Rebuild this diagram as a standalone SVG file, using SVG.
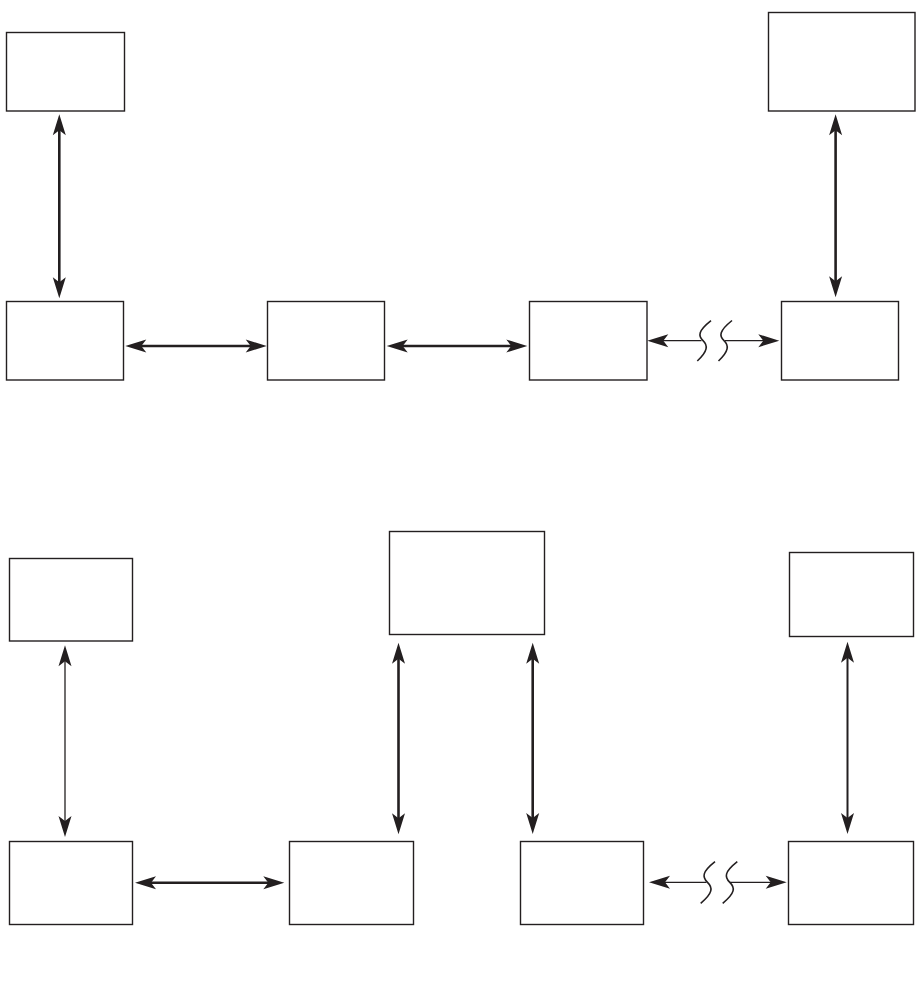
<svg xmlns="http://www.w3.org/2000/svg" width="916" height="1006" viewBox="0 0 916 1006">
<defs>
<style>
.box{fill:#fff;stroke:#231f20;stroke-width:1.4}
.thick{fill:none;stroke:#231f20;stroke-width:2.6;marker-start:url(#ah);marker-end:url(#ah)}
.med{fill:none;stroke:#231f20;stroke-width:2;marker-start:url(#ah);marker-end:url(#ah)}
.thin{fill:none;stroke:#231f20;stroke-width:1.3;marker-start:url(#ah);marker-end:url(#ah)}
.seg{fill:none;stroke:#231f20;stroke-width:1.3}
.wave{fill:none;stroke:#231f20;stroke-width:1.6}
</style>
<marker id="ah" markerUnits="userSpaceOnUse" orient="auto-start-reverse" markerWidth="22" markerHeight="14" refX="13" refY="6.5" overflow="visible">
<path d="M21,6.5 L0,0 L5,6.5 L0,13 Z" fill="#231f20"/>
</marker>
<marker id="ahs" markerUnits="userSpaceOnUse" orient="auto-start-reverse" markerWidth="22" markerHeight="14" refX="13" refY="6.5" overflow="visible">
<path d="M21,6.5 L0,0 L5,6.5 L0,13 Z" fill="#231f20"/>
</marker>
</defs>
<rect width="916" height="1006" fill="#fff"/>
<g id="top-nodes">
<g id="t1"><rect class="box" x="6.5" y="32.5" width="118" height="78.5"/></g>
<g id="t2"><rect class="box" x="768.5" y="12.5" width="146.5" height="98.5"/></g>
<g id="t3"><rect class="box" x="6.5" y="301.5" width="117" height="78.5"/></g>
<g id="t4"><rect class="box" x="267.5" y="301.5" width="117" height="78.5"/></g>
<g id="t5"><rect class="box" x="529.5" y="301.5" width="117.5" height="78.5"/></g>
<g id="t6"><rect class="box" x="781.5" y="301.5" width="117" height="78.5"/></g>
</g>
<g id="bottom-nodes">
<g id="b1"><rect class="box" x="9.5" y="558.5" width="123" height="82.5"/></g>
<g id="b2"><rect class="box" x="389.5" y="531.5" width="155" height="103"/></g>
<g id="b3"><rect class="box" x="789.5" y="552.5" width="124" height="84"/></g>
<g id="b4"><rect class="box" x="9.5" y="841.5" width="123" height="83"/></g>
<g id="b5"><rect class="box" x="289.5" y="841.5" width="124" height="83"/></g>
<g id="b6"><rect class="box" x="520.5" y="841.5" width="123" height="83"/></g>
<g id="b7"><rect class="box" x="788.5" y="841.5" width="125" height="83"/></g>
</g>
<g id="connectors">
<path class="thick" d="M59.3,122.3 V290.3"/>
<path class="thick" d="M835.6,122.3 V289.3"/>
<path class="thick" d="M133.3,346 H258.7"/>
<path class="thick" d="M394.7,346 H519.3"/>
<path class="seg" d="M655.3,340.7 H701.5" marker-start="url(#ah)"/>
<path class="seg" d="M725,340.7 H771.3" marker-end="url(#ah)"/>
<path class="wave" d="M711,320.7 C698,331 698,336 703,340.7 C708,345.5 708,351 697.3,361"/>
<path class="wave" d="M732,320.5 C719,331 719,336 724,340.7 C729,345.5 729,351 718.5,361"/>
<path class="thin" d="M65,653.3 V829"/>
<path class="thick" d="M398.5,650.7 V826.3"/>
<path class="thick" d="M532.7,650.7 V826"/>
<path class="med" d="M847.5,649.7 V826"/>
<path class="thick" d="M143,882.7 H276.3"/>
<path class="seg" d="M657,882.3 H706.5" marker-start="url(#ah)"/>
<path class="seg" d="M730,882.3 H778.7" marker-end="url(#ah)"/>
<path class="wave" d="M715,861.7 C702,872 702,877 707.5,882.3 C713,887.5 713,893 700.7,903.3"/>
<path class="wave" d="M737.3,861.7 C724.3,872 724.3,877 729.8,882.3 C735.3,887.5 735.3,893 722.7,903.3"/>
</g>
</svg>
